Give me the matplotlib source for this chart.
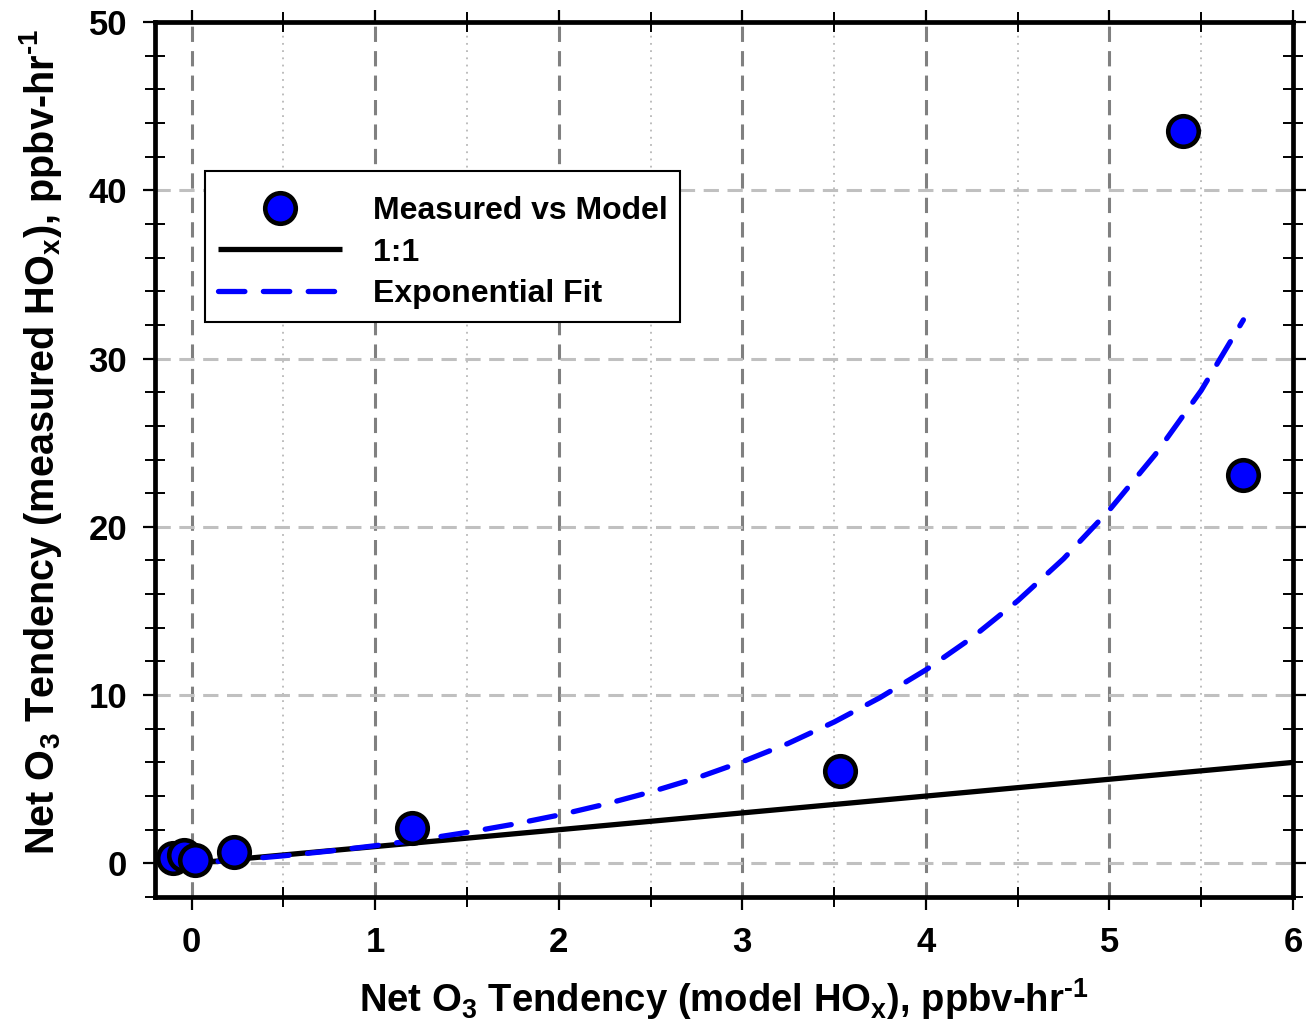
import matplotlib
matplotlib.use("Agg")
import matplotlib.pyplot as plt
from matplotlib.ticker import MultipleLocator

plt.rcParams['font.family'] = ['Liberation Sans', 'DejaVu Sans']
plt.rcParams['font.weight'] = 'bold'
plt.rcParams['mathtext.fontset'] = 'custom'
plt.rcParams['mathtext.rm'] = 'Liberation Sans:bold'
plt.rcParams['mathtext.it'] = 'Liberation Sans:bold'
plt.rcParams['mathtext.bf'] = 'Liberation Sans:bold'

# Data
meas_x = [-0.10, -0.04, 0.02, 0.23, 1.20, 3.53, 5.40, 5.73]
meas_y = [0.3, 0.5, 0.2, 0.65, 2.1, 5.5, 43.5, 23.1]

one_x = [-0.1, 6.0]
one_y = [-0.1, 6.0]

fit_x = [-0.1, 0, 0.25, 0.5, 0.75, 1, 1.25, 1.5, 1.75, 2, 2.25, 2.5, 2.75, 3,
         3.25, 3.5, 3.75, 4, 4.25, 4.5, 4.75, 5, 5.25, 5.5, 5.73]
fit_y = [-0.08, 0.0, 0.21, 0.45, 0.73, 1.05, 1.42, 1.84, 2.32, 2.87, 3.51, 4.24,
         5.07, 6.04, 7.13, 8.40, 9.85, 11.5, 13.4, 15.6, 18.1, 21.0, 24.3, 28.1, 32.3]

x_ticks = [0, 1, 2, 3, 4, 5, 6]
y_ticks = [0, 10, 20, 30, 40, 50]

fig = plt.figure(figsize=(13.06, 10.28), dpi=100)
ax = fig.add_axes([0.1187, 0.1274, 0.8713, 0.8512])

ax.set_xlim(-0.2, 6)
ax.set_ylim(-2, 50)

# grids
for xv in x_ticks[:-1]:
    ax.axvline(xv, color='#808080', lw=2.2, ls=(0, (5, 3)), zorder=0)
for xv in [0.5, 1.5, 2.5, 3.5, 4.5, 5.5]:
    ax.axvline(xv, color='#b8b8b8', lw=1.3, ls=(0, (1, 3)), zorder=0)
for yv in y_ticks[:-1]:
    ax.axhline(yv, color='#c0c0c0', lw=2.2, ls=(0, (5, 2.8)), zorder=0)

ax.plot(one_x, one_y, color='black', lw=3.8, solid_capstyle='butt', zorder=2, label='1:1')
ax.plot(fit_x, fit_y, color='#0000ff', lw=3.8, ls=(0, (5, 3.5)),
        dash_capstyle='round', zorder=3, label='Exponential Fit')
ax.plot(meas_x, meas_y, ls='none', marker='o', ms=22, mfc='#0000ff', mec='black',
        mew=3.3, zorder=4, label='Measured vs Model')

ax.set_xticks(x_ticks)
ax.set_yticks(y_ticks)
ax.xaxis.set_minor_locator(MultipleLocator(0.5))
ax.yaxis.set_minor_locator(MultipleLocator(2))
ax.tick_params(which='major', direction='out', length=9, width=1.6, labelsize=25,
               top=True, right=True, pad=12)
ax.tick_params(which='minor', direction='inout', length=14, width=1.4,
               top=True, right=True)
ax.tick_params(axis='y', which='major', pad=11)
for lab in ax.get_xticklabels() + ax.get_yticklabels():
    lab.set_fontweight('bold')

for s in ax.spines.values():
    s.set_linewidth(3.4)

ax.set_xlabel(r'Net O$_3$ Tendency (model HO$_x$), ppbv-hr$^{\text{-1}}$', fontsize=27.5,
              fontweight='bold', labelpad=12)
ax.set_ylabel(r'Net O$_3$ Tendency (measured HO$_x$), ppbv-hr$^{\text{-1}}$', fontsize=28.5,
              fontweight='bold', labelpad=18)
ax.yaxis.label.set_y(0.52)

h, l = ax.get_legend_handles_labels()
order = [2, 0, 1]
leg = ax.legend([h[i] for i in order], [l[i] for i in order],
                loc='upper left', bbox_to_anchor=(0.044, 0.830), fontsize=23,
                handlelength=3.9, handletextpad=0.95, labelspacing=0.36,
                borderpad=0.4, fancybox=False, framealpha=1, edgecolor='black',
                borderaxespad=0, title=' ', title_fontsize=1)
leg.get_frame().set_linewidth(1.5)
for t in leg.get_texts():
    t.set_fontweight('bold')

fig.savefig('out.png', dpi=100)
